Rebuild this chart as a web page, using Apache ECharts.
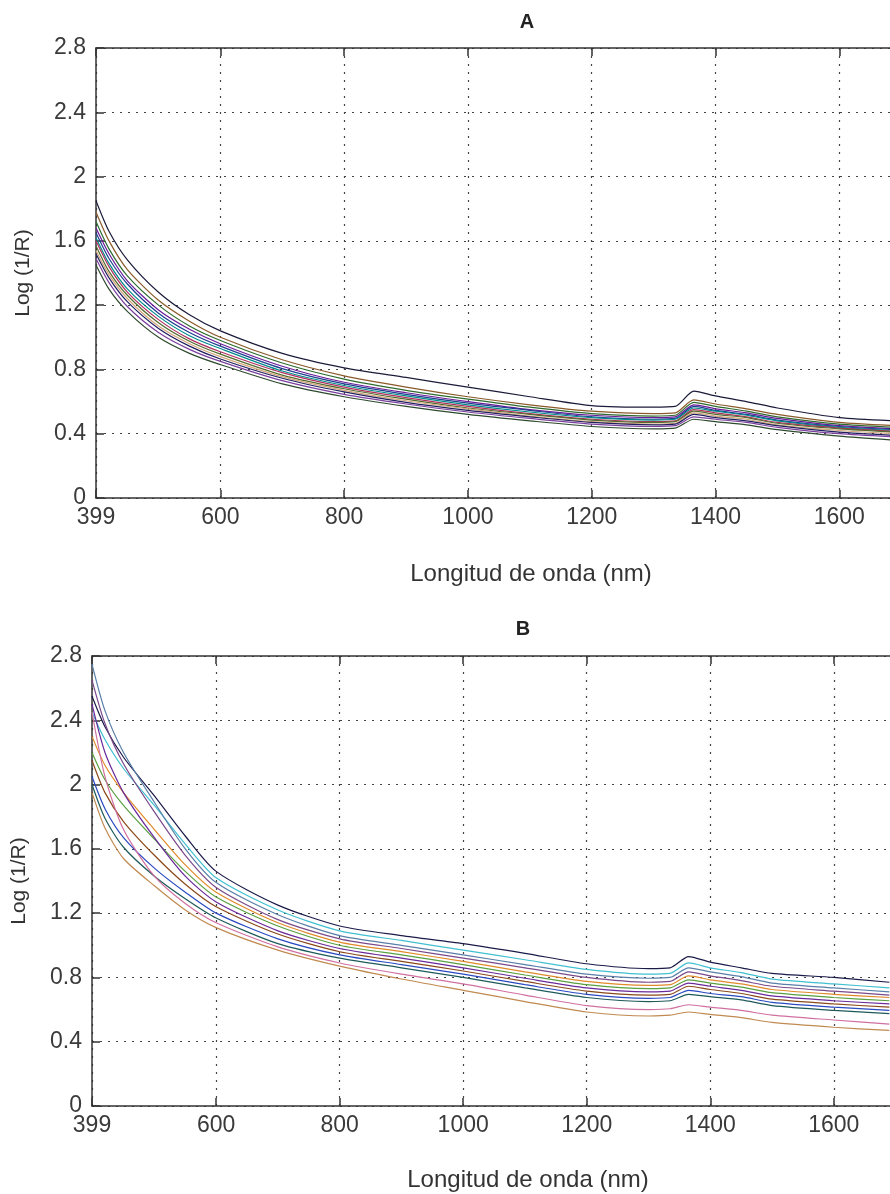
<!DOCTYPE html>
<html>
<head>
<meta charset="utf-8">
<script src="https://cdn.jsdelivr.net/npm/echarts@6/dist/echarts.min.js"></script>
<style>
  html, body { margin: 0; padding: 0; background: #fff; }
  #chart { width: 890px; height: 1194px; }
</style>
</head>
<body>
<div id="chart"></div>
<script>
const wavelengths = [399, 420, 450, 500, 550, 600, 700, 800, 900, 1000, 1100, 1200, 1300, 1335, 1365, 1400, 1450, 1500, 1600, 1690];

// panel A spectra, Log(1/R)
const specA = [
  [1.85, 1.66, 1.48, 1.28, 1.14, 1.04, 0.90, 0.81, 0.75, 0.69, 0.63, 0.575, 0.565, 0.57, 0.665, 0.635, 0.60, 0.56, 0.50, 0.48],
  [1.78, 1.60, 1.42, 1.23, 1.10, 1.00, 0.86, 0.76, 0.69, 0.63, 0.58, 0.54, 0.525, 0.53, 0.61, 0.585, 0.555, 0.52, 0.47, 0.45],
  [1.72, 1.55, 1.38, 1.20, 1.07, 0.98, 0.84, 0.74, 0.67, 0.615, 0.565, 0.525, 0.51, 0.515, 0.595, 0.57, 0.54, 0.505, 0.46, 0.44],
  [1.68, 1.52, 1.35, 1.17, 1.05, 0.96, 0.82, 0.72, 0.655, 0.60, 0.55, 0.515, 0.50, 0.505, 0.58, 0.555, 0.53, 0.495, 0.45, 0.43],
  [1.65, 1.49, 1.33, 1.15, 1.03, 0.945, 0.805, 0.71, 0.645, 0.59, 0.545, 0.505, 0.49, 0.495, 0.57, 0.545, 0.52, 0.485, 0.445, 0.425],
  [1.62, 1.46, 1.30, 1.13, 1.01, 0.93, 0.79, 0.70, 0.635, 0.58, 0.535, 0.50, 0.485, 0.49, 0.56, 0.54, 0.515, 0.48, 0.44, 0.42],
  [1.60, 1.44, 1.28, 1.11, 0.99, 0.91, 0.78, 0.69, 0.625, 0.57, 0.525, 0.49, 0.475, 0.48, 0.55, 0.53, 0.505, 0.47, 0.435, 0.415],
  [1.57, 1.41, 1.26, 1.09, 0.975, 0.895, 0.765, 0.68, 0.615, 0.56, 0.52, 0.485, 0.47, 0.475, 0.54, 0.52, 0.50, 0.465, 0.43, 0.41],
  [1.54, 1.39, 1.24, 1.07, 0.96, 0.88, 0.755, 0.67, 0.605, 0.555, 0.51, 0.475, 0.46, 0.465, 0.53, 0.51, 0.49, 0.455, 0.42, 0.40],
  [1.52, 1.37, 1.22, 1.055, 0.945, 0.865, 0.745, 0.66, 0.595, 0.545, 0.505, 0.47, 0.455, 0.46, 0.52, 0.50, 0.48, 0.45, 0.41, 0.39],
  [1.49, 1.34, 1.19, 1.03, 0.925, 0.85, 0.73, 0.645, 0.585, 0.535, 0.495, 0.46, 0.445, 0.45, 0.505, 0.49, 0.47, 0.44, 0.40, 0.38],
  [1.45, 1.30, 1.16, 1.00, 0.90, 0.83, 0.71, 0.63, 0.57, 0.52, 0.48, 0.445, 0.43, 0.435, 0.49, 0.475, 0.455, 0.425, 0.385, 0.36]
];

// panel B spectra, Log(1/R)
const specB = [
  [2.55, 2.36, 2.17, 1.93, 1.68, 1.46, 1.25, 1.12, 1.06, 1.01, 0.95, 0.885, 0.855, 0.86, 0.93, 0.895, 0.86, 0.825, 0.80, 0.77],
  [2.45, 2.28, 2.10, 1.87, 1.63, 1.42, 1.22, 1.09, 1.03, 0.97, 0.91, 0.85, 0.82, 0.825, 0.89, 0.86, 0.83, 0.79, 0.76, 0.735],
  [2.75, 2.46, 2.20, 1.89, 1.60, 1.39, 1.19, 1.06, 1.00, 0.94, 0.88, 0.82, 0.795, 0.80, 0.86, 0.835, 0.805, 0.765, 0.735, 0.71],
  [2.65, 2.38, 2.13, 1.83, 1.56, 1.36, 1.16, 1.04, 0.98, 0.92, 0.86, 0.80, 0.77, 0.775, 0.835, 0.81, 0.78, 0.745, 0.715, 0.69],
  [2.30, 2.12, 1.95, 1.72, 1.50, 1.33, 1.14, 1.02, 0.96, 0.90, 0.835, 0.775, 0.75, 0.755, 0.81, 0.785, 0.76, 0.725, 0.695, 0.675],
  [2.20, 2.03, 1.87, 1.66, 1.46, 1.30, 1.12, 1.00, 0.94, 0.88, 0.815, 0.755, 0.73, 0.735, 0.785, 0.765, 0.74, 0.705, 0.675, 0.655],
  [2.50, 2.20, 1.95, 1.67, 1.43, 1.27, 1.09, 0.98, 0.92, 0.86, 0.795, 0.735, 0.71, 0.715, 0.765, 0.745, 0.72, 0.685, 0.655, 0.635],
  [2.15, 1.95, 1.77, 1.56, 1.38, 1.24, 1.07, 0.96, 0.90, 0.84, 0.775, 0.715, 0.69, 0.695, 0.745, 0.725, 0.70, 0.665, 0.635, 0.615],
  [2.05, 1.85, 1.67, 1.48, 1.33, 1.20, 1.04, 0.94, 0.88, 0.82, 0.755, 0.695, 0.67, 0.675, 0.72, 0.70, 0.68, 0.645, 0.615, 0.595],
  [2.00, 1.79, 1.61, 1.43, 1.29, 1.17, 1.01, 0.92, 0.86, 0.80, 0.735, 0.675, 0.65, 0.655, 0.695, 0.68, 0.66, 0.625, 0.595, 0.575],
  [2.45, 2.05, 1.72, 1.43, 1.26, 1.14, 0.99, 0.89, 0.82, 0.76, 0.69, 0.625, 0.60, 0.605, 0.63, 0.615, 0.595, 0.565, 0.535, 0.51],
  [1.95, 1.73, 1.54, 1.37, 1.22, 1.11, 0.97, 0.87, 0.79, 0.72, 0.65, 0.585, 0.56, 0.565, 0.585, 0.57, 0.55, 0.52, 0.49, 0.47]
];

const xTicks = [399, 600, 800, 1000, 1200, 1400, 1600];
const colorsA = ['#1b1b3a', '#8b5a2b', '#2f6b2f', '#6a1b9a', '#1f3f8f', '#008b8b', '#b03060', '#556b2f', '#d2a679', '#202060', '#7b3f9e', '#2e4a2e'];
const colorsB = ['#1b1b4a', '#40c0d0', '#5a7fa8', '#7a4a8a', '#e08a2a', '#5aa040', '#6a2a9a', '#8b4a1b', '#2a4ac0', '#1f5a5a', '#d070a0', '#c08a50'];

const axisCol = '#333';
const tickFont = { fontFamily: 'Liberation Sans', fontSize: 23, color: '#3a3a3a' };

function grids(i, left, top, max) {
  return {
    grid: { left: left, top: top, height: 450, right: 0 },
    xAxes: [
      {
        type: 'value', gridIndex: i, min: 399, max: max, position: 'bottom',
        axisLine: { show: true, lineStyle: { color: axisCol, width: 1.5 } },
        axisTick: { show: true, inside: true, length: 8, customValues: xTicks, lineStyle: { color: axisCol, width: 1.5 } },
        axisLabel: Object.assign({ show: true, margin: 8, customValues: xTicks, formatter: v => String(v) }, tickFont),
        splitLine: { show: true, lineStyle: { color: '#444', type: [2, 6], width: 1.2 } }
      },
      {
        type: 'value', gridIndex: i, min: 399, max: max, position: 'top',
        axisLine: { show: true, onZero: false, lineStyle: { color: axisCol, width: 1.5 } },
        axisTick: { show: true, inside: true, length: 8, customValues: xTicks, lineStyle: { color: axisCol, width: 1.5 } },
        axisLabel: { show: false },
        splitLine: { show: false }
      }
    ],
    yAxis: {
      type: 'value', gridIndex: i, min: 0, max: 2.8, interval: 0.4,
      name: 'Log (1/R)', nameLocation: 'middle', nameGap: 62, nameRotate: 90,
      nameTextStyle: { fontFamily: 'Liberation Sans', fontSize: 21, color: '#333' },
      axisLine: { show: true, lineStyle: { color: axisCol, width: 1.5 } },
      axisTick: { show: true, inside: true, length: 8, lineStyle: { color: axisCol, width: 1.5 } },
      axisLabel: Object.assign({ margin: 10, formatter: v => String(Math.round(v * 10) / 10) }, tickFont),
      splitLine: { show: true, lineStyle: { color: '#444', type: [2, 6], width: 1.2 } }
    }
  };
}

const gA = grids(0, 96, 48, 1682);
const gB = grids(1, 92, 656, 1691);

const series = [];
specA.forEach((vals, k) => {
  series.push({
    type: 'line', xAxisIndex: 0, yAxisIndex: 0, showSymbol: false, smooth: 0.25,
    lineStyle: { width: 1.2, color: colorsA[k % colorsA.length] },
    data: wavelengths.map((w, i) => [w, vals[i]])
  });
});
specB.forEach((vals, k) => {
  series.push({
    type: 'line', xAxisIndex: 2, yAxisIndex: 1, showSymbol: false, smooth: 0.25,
    lineStyle: { width: 1.2, color: colorsB[k % colorsB.length] },
    data: wavelengths.map((w, i) => [w, vals[i]])
  });
});

const chart = echarts.init(document.getElementById('chart'), null, { renderer: 'canvas' });
chart.setOption({
  backgroundColor: '#fff',
  animation: false,
  grid: [gA.grid, gB.grid],
  xAxis: gA.xAxes.concat(gB.xAxes),
  yAxis: [gA.yAxis, gB.yAxis],
  graphic: [
    { type: 'text', x: 527, y: 22, style: { text: 'A', font: 'bold 20px Liberation Sans', fill: '#222', textAlign: 'center', textVerticalAlign: 'middle' } },
    { type: 'text', x: 523, y: 629, style: { text: 'B', font: 'bold 20px Liberation Sans', fill: '#222', textAlign: 'center', textVerticalAlign: 'middle' } },
    { type: 'text', x: 531, y: 574, style: { text: 'Longitud de onda (nm)', font: '24px Liberation Sans', fill: '#333', textAlign: 'center', textVerticalAlign: 'middle' } },
    { type: 'text', x: 528, y: 1180, style: { text: 'Longitud de onda (nm)', font: '24px Liberation Sans', fill: '#333', textAlign: 'center', textVerticalAlign: 'middle' } }
  ],
  series: series
});
</script>
</body>
</html>
